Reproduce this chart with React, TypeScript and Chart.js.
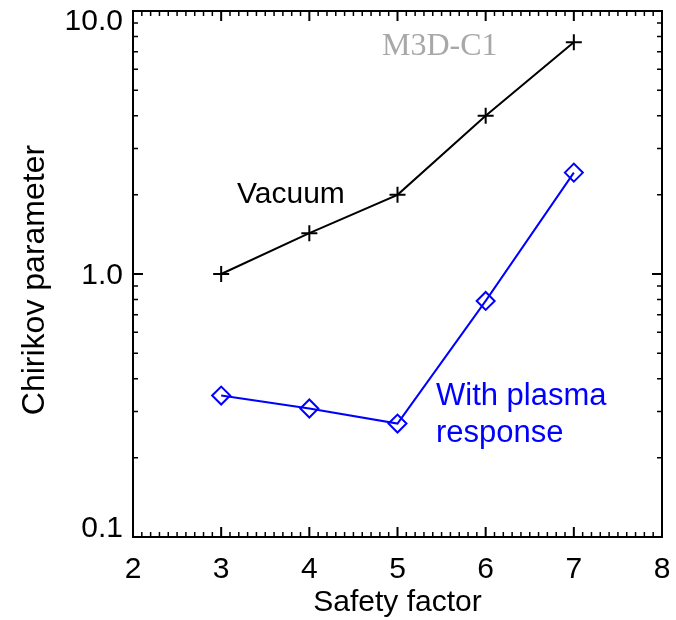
import { useEffect, useRef } from "react";
import { Chart, registerables } from "chart.js";

Chart.register(...registerables);

const safetyFactor = [3, 4, 5, 6, 7];
const vacuumValues = [1.0, 1.43, 2.0, 4.0, 7.6];
const plasmaValues = [0.345, 0.308, 0.27, 0.79, 2.43];
const xTickValues = [2, 3, 4, 5, 6, 7, 8];
const xTickLabels = ["2", "3", "4", "5", "6", "7", "8"];
const yTickValues = [0.1, 1, 10];
const yTickLabels = ["0.1", "1.0", "10.0"];

const SANS = '"Liberation Sans", Arial, Helvetica, sans-serif';
const SERIF = '"Liberation Serif", "DejaVu Serif", serif';

const framePlugin = {
  id: "idlFrame",
  afterDraw(chart: any) {
    const ctx = chart.ctx as CanvasRenderingContext2D;
    const { left, right, top, bottom } = chart.chartArea;
    const xs = chart.scales.x;
    const ys = chart.scales.y;
    ctx.save();
    ctx.strokeStyle = "#000";
    ctx.lineWidth = 2;
    ctx.strokeRect(left, top, right - left, bottom - top);

    // x ticks (major every 1, minor every 0.1)
    const xmin = Math.round(xs.min * 10);
    const xmax = Math.round(xs.max * 10);
    for (let i = xmin; i <= xmax; i++) {
      const px = xs.getPixelForValue(i / 10);
      const len = i % 10 === 0 ? 10 : 5;
      ctx.lineWidth = i % 10 === 0 ? 2 : 1.5;
      ctx.beginPath();
      ctx.moveTo(px, bottom);
      ctx.lineTo(px, bottom - len);
      ctx.moveTo(px, top);
      ctx.lineTo(px, top + len);
      ctx.stroke();
    }

    // y ticks (log)
    const d0 = Math.round(Math.log10(ys.min));
    const d1 = Math.round(Math.log10(ys.max));
    for (let d = d0; d <= d1; d++) {
      for (let m = 1; m <= 9; m++) {
        if (d === d1 && m > 1) break;
        const val = m * Math.pow(10, d);
        const py = ys.getPixelForValue(val);
        const len = m === 1 ? 10 : 5;
        ctx.lineWidth = m === 1 ? 2 : 1.5;
        ctx.beginPath();
        ctx.moveTo(left, py);
        ctx.lineTo(left + len, py);
        ctx.moveTo(right, py);
        ctx.lineTo(right - len, py);
        ctx.stroke();
      }
    }

    // tick labels
    ctx.fillStyle = "#000";
    ctx.font = `30px ${SANS}`;
    ctx.textAlign = "center";
    ctx.textBaseline = "alphabetic";
    xTickValues.forEach((v, i) => {
      ctx.fillText(xTickLabels[i], xs.getPixelForValue(v), bottom + 41);
    });
    ctx.textAlign = "right";
    yTickValues.forEach((v, i) => {
      const py = ys.getPixelForValue(v);
      const base = Math.min(Math.max(py + 10, top + 19), bottom);
      ctx.fillText(yTickLabels[i], left - 10, base);
    });

    // axis titles
    ctx.textAlign = "center";
    ctx.fillText("Safety factor", (left + right) / 2, bottom + 74);
    ctx.save();
    ctx.font = `32px ${SANS}`;
    ctx.translate(44, (top + bottom) / 2 + 6);
    ctx.rotate(-Math.PI / 2);
    ctx.fillText("Chirikov parameter", 0, 0);
    ctx.restore();

    // annotations
    ctx.textAlign = "left";
    ctx.fillStyle = "#000";
    ctx.font = `30px ${SANS}`;
    ctx.fillText("Vacuum", 237, 203);
    ctx.fillStyle = "#0000ff";
    ctx.font = `31px ${SANS}`;
    ctx.fillText("With plasma", 436, 405);
    ctx.fillText("response", 436, 442);
    ctx.fillStyle = "#a8a8a8";
    ctx.font = `32px ${SERIF}`;
    ctx.fillText("M3D-C1", 382, 55);
    ctx.restore();
  },
};

export default function App() {
  const ref = useRef<HTMLCanvasElement | null>(null);
  useEffect(() => {
    if (!ref.current) return;
    const chart = new Chart(ref.current, {
      type: "scatter",
      data: {
        datasets: [
          {
            label: "Vacuum",
            data: safetyFactor.map((x, i) => ({ x, y: vacuumValues[i] })),
            showLine: true,
            borderColor: "#000",
            backgroundColor: "transparent",
            borderWidth: 2,
            pointStyle: "cross",
            pointRadius: 8,
            pointBorderWidth: 2,
            pointBorderColor: "#000",
          },
          {
            label: "With plasma response",
            data: safetyFactor.map((x, i) => ({ x, y: plasmaValues[i] })),
            showLine: true,
            borderColor: "#0000ff",
            backgroundColor: "transparent",
            borderWidth: 2,
            pointStyle: "rectRot",
            pointRadius: 9,
            pointBorderWidth: 2,
            pointBorderColor: "#0000ff",
            pointBackgroundColor: "transparent",
          },
        ],
      },
      options: {
        responsive: false,
        animation: false,
        devicePixelRatio: 1,
        layout: { padding: { left: 0, top: 9, right: 14, bottom: 0 } },
        plugins: {
          legend: { display: false },
          tooltip: { enabled: false },
          title: { display: false },
        },
        scales: {
          x: {
            type: "linear",
            min: 2,
            max: 8,
            ticks: { display: false },
            grid: { display: false },
            border: { display: false },
            afterFit: (s: any) => {
              s.height = 83;
            },
          },
          y: {
            type: "logarithmic",
            min: 0.1,
            max: 10,
            ticks: { display: false },
            grid: { display: false },
            border: { display: false },
            afterFit: (s: any) => {
              s.width = 133;
            },
          },
        },
      },
      plugins: [framePlugin],
    } as any);
    return () => chart.destroy();
  }, []);
  return (
    <div style={{ position: "absolute", left: 0, top: 0, width: 676, height: 620, background: "#fff" }}>
      <canvas ref={ref} width={676} height={620} />
    </div>
  );
}
